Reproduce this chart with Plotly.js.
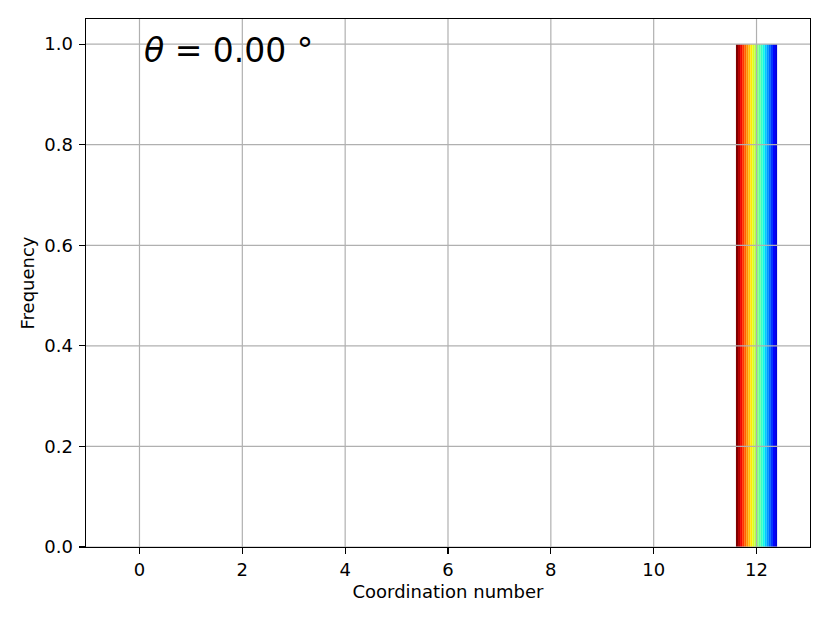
<!DOCTYPE html>
<html>
<head>
<meta charset="utf-8">
<script src="https://cdn.plot.ly/plotly-3.0.1.min.js"></script>
<style>
  body { margin: 0; background: #fff; }
  #chart { width: 830px; height: 623px; }
</style>
</head>
<body>
<div id="chart"></div>
<script>
// Data
const coordinationNumbers = [0, 1, 2, 3, 4, 5, 6, 7, 8, 9, 10, 11, 12];
// every series reads the same: all particles have 12 neighbours
const frequency = [0, 0, 0, 0, 0, 0, 0, 0, 0, 0, 0, 0, 1.0];
const seriesCount = 20;
const xTicks = [0, 2, 4, 6, 8, 10, 12];
const yTicks = [0.0, 0.2, 0.4, 0.6, 0.8, 1.0];
const angleLabel = '<i>θ</i> = 0.00 °';

// matplotlib "jet" colormap
function jet(v) {
    const interp = (pts) => {
        for (let i = 1; i < pts.length; i++) {
            if (v <= pts[i][0]) {
                const [x0, y0] = pts[i - 1];
                const [x1, y1] = pts[i];
                return y0 + (y1 - y0) * (v - x0) / (x1 - x0);
            }
        }
        return pts[pts.length - 1][1];
    };
    const r = interp([[0, 0], [0.35, 0], [0.66, 1], [0.89, 1], [1, 0.5]]);
    const g = interp([[0, 0], [0.125, 0], [0.375, 1], [0.64, 1], [0.91, 0], [1, 0]]);
    const b = interp([[0, 0.5], [0.11, 1], [0.34, 1], [0.65, 0], [1, 0]]);
    return `rgb(${Math.round(r * 255)},${Math.round(g * 255)},${Math.round(b * 255)})`;
}

// Build traces (one per series, red on the left to blue on the right)
const traces = [];
for (let i = 0; i < seriesCount; i++) {
    const t = 1.0 - 0.92 * i / (seriesCount - 1);
    traces.push({
        type: 'bar',
        x: coordinationNumbers,
        y: frequency,
        marker: { color: jet(t), line: { width: 0 } },
        showlegend: false,
        hoverinfo: 'skip'
    });
}

// Grid lines drawn over the bars, as matplotlib does
const gridColor = '#b0b0b0';
const shapes = [];
xTicks.forEach(v => {
    shapes.push({
        type: 'line', layer: 'above', xref: 'x', yref: 'paper',
        x0: v, x1: v, y0: 0, y1: 1,
        line: { color: gridColor, width: 1.2 }
    });
});
yTicks.forEach(v => {
    shapes.push({
        type: 'line', layer: 'above', xref: 'paper', yref: 'y',
        x0: 0, x1: 1, y0: v, y1: v,
        line: { color: gridColor, width: 1.2 }
    });
});

const axisCommon = {
    showgrid: false,
    zeroline: false,
    showline: true,
    mirror: true,
    linecolor: '#000',
    linewidth: 1.4,
    ticks: 'outside',
    ticklen: 6,
    tickwidth: 1.2,
    tickcolor: '#000',
    layer: 'above traces',
    tickfont: { family: 'DejaVu Sans', size: 18, color: '#000' }
};

const layout = {
    width: 830,
    height: 623,
    margin: { l: 86, r: 20, t: 19, b: 76 },
    paper_bgcolor: '#fff',
    plot_bgcolor: '#fff',
    barmode: 'group',
    bargap: 0.2,
    bargroupgap: 0,
    font: { family: 'DejaVu Sans', size: 18, color: '#000' },
    xaxis: Object.assign({}, axisCommon, {
        range: [-1.04, 13.04],
        tickmode: 'array',
        tickvals: xTicks,
        ticktext: xTicks.map(String),
        title: { text: 'Coordination number', font: { family: 'DejaVu Sans', size: 18 }, standoff: 6 }
    }),
    yaxis: Object.assign({}, axisCommon, {
        range: [0, 1.05],
        tickmode: 'array',
        tickvals: yTicks,
        ticktext: yTicks.map(v => v.toFixed(1)),
        ticklabelstandoff: 2,
        title: { text: 'Frequency', font: { family: 'DejaVu Sans', size: 18 }, standoff: 5 }
    }),
    shapes: shapes,
    annotations: [{
        xref: 'paper', yref: 'paper',
        x: 0.0773, y: 0.941,
        xanchor: 'left', yanchor: 'middle',
        text: angleLabel,
        showarrow: false,
        font: { family: 'DejaVu Sans', size: 33, color: '#000' }
    }]
};

Plotly.newPlot('chart', traces, layout, { displayModeBar: false, staticPlot: true });
</script>
</body>
</html>
